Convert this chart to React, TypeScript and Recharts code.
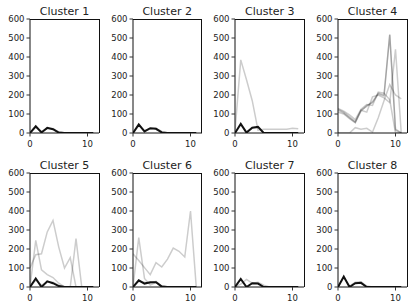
import { LineChart, Line, XAxis, YAxis } from "recharts";

const STEPS = [0, 1, 2, 3, 4, 5, 6, 7, 8, 9, 10, 11];
const Y_TICKS = [0, 100, 200, 300, 400, 500, 600];
const X_TICKS = [0, 10];

// dark line = the many overlapping members, faint = the outliers
const c1Core = [0, 35, 3, 27, 20, 2, 0, 0, 0, 0, 0, 0];
const c1Faint = [[0, 30, 8, 22, 24, 6, 0, 0, 0, 0, 0, 0]];

const c2Core = [0, 45, 8, 25, 22, 3, 0, 0, 0, 0, 0, 0];
const c2Faint = [[0, 38, 12, 22, 25, 8, 0, 0, 0, 0, 0, 0]];

const c3Core = [0, 48, 2, 28, 32, 0, 0, 0, 0, 0, 0, 0];
const c3Faint = [[10, 385, 280, 170, 15, 20, 20, 20, 20, 20, 25, 22]];

const c4Core: number[] | null = null;
const c4Faint = [
  [125, 110, 85, 60, 120, 140, 165, 210, 200, 520, 15, 0],
  [120, 105, 80, 55, 115, 145, 160, 205, 195, 515, 20, 0],
  [110, 100, 75, 55, 120, 110, 190, 200, 185, 160, 440, 0],
  [130, 115, 95, 70, 125, 150, 145, 215, 210, 175, 0, 0],
  [0, 0, 0, 28, 20, 25, 5, 80, 170, 255, 200, 180],
];

const c5Core = [0, 45, 0, 30, 20, 5, 0, 0, 0, 0, 0, 0];
const c5Faint = [
  [100, 170, 175, 290, 350, 210, 100, 155, 0, 0, 0, 0],
  [0, 245, 90, 65, 50, 20, 0, 0, 255, 0, 0, 0],
  [0, 35, 10, 25, 25, 10, 0, 0, 0, 0, 0, 0],
];

const c6Core = [0, 35, 18, 25, 25, 2, 0, 0, 0, 0, 0, 0];
const c6Faint = [
  [175, 139, 102, 65, 128, 105, 147, 205, 188, 158, 400, 0],
  [0, 260, 45, 10, 25, 5, 0, 0, 0, 0, 0, 0],
  [0, 30, 25, 20, 30, 5, 0, 0, 0, 0, 0, 0],
];

const c7Core = [0, 42, 0, 20, 18, 0, 0, 0, 0, 0, 0, 0];
const c7Faint = [[0, 15, 40, 20, 25, 10, 0, 0, 0, 0, 0, 0]];

const c8Core = [0, 55, 0, 20, 22, 0, 0, 0, 0, 0, 0, 0];
const c8Faint = [[0, 50, 5, 25, 28, 5, 0, 0, 0, 0, 0, 0]];

const clusters = [
  { title: "Cluster 1", core: c1Core, faint: c1Faint },
  { title: "Cluster 2", core: c2Core, faint: c2Faint },
  { title: "Cluster 3", core: c3Core, faint: c3Faint },
  { title: "Cluster 4", core: c4Core, faint: c4Faint },
  { title: "Cluster 5", core: c5Core, faint: c5Faint },
  { title: "Cluster 6", core: c6Core, faint: c6Faint },
  { title: "Cluster 7", core: c7Core, faint: c7Faint },
  { title: "Cluster 8", core: c8Core, faint: c8Faint },
];

const FONT = "'DejaVu Sans', sans-serif";
const COL_LEFT = [30, 132.7, 235.3, 338];
const ROW_TOP = [19, 173];
const PLOT_W = 69;
const PLOT_H = 114;
const Y_AXIS_W = 30;
const X_AXIS_H = 20;
const PAD_TOP = 6;

const tickStyle = { fontSize: 8.5, fill: "#222", fontFamily: FONT };

function Panel({ title, core, faint, left, top }: any) {
  const data = STEPS.map((x, i) => {
    const row: any = { x };
    if (core) row.core = core[i];
    faint.forEach((s: number[], j: number) => (row["f" + j] = s[i]));
    return row;
  });

  return (
    <>
      <div
        style={{
          position: "absolute",
          left,
          top: top - 13,
          width: PLOT_W,
          textAlign: "center",
          fontFamily: FONT,
          fontSize: 11,
          lineHeight: "11px",
          color: "#222",
          whiteSpace: "nowrap",
        }}
      >
        {title}
      </div>
      <div
        style={{ position: "absolute", left: left - Y_AXIS_W, top: top - PAD_TOP }}
      >
        <LineChart
          width={Y_AXIS_W + PLOT_W + 1}
          height={PAD_TOP + PLOT_H + X_AXIS_H}
          data={data}
          margin={{ top: PAD_TOP, right: 1, bottom: 0, left: 0 }}
        >
          <XAxis
            dataKey="x"
            type="number"
            domain={[0, 12]}
            ticks={X_TICKS}
            interval={0}
            allowDataOverflow
            height={X_AXIS_H}
            tickSize={3.5}
            tickMargin={4}
            tick={tickStyle}
            axisLine={{ stroke: "#111" }}
            tickLine={{ stroke: "#333" }}
          />
          <YAxis
            type="number"
            domain={[0, 600]}
            ticks={Y_TICKS}
            interval={0}
            allowDataOverflow
            width={Y_AXIS_W}
            tickSize={3.5}
            tickMargin={2}
            tick={tickStyle}
            axisLine={{ stroke: "#111" }}
            tickLine={{ stroke: "#333" }}
          />
          {faint.map((_: number[], j: number) => (
            <Line
              key={j}
              dataKey={"f" + j}
              stroke="#000"
              strokeOpacity={0.2}
              strokeWidth={1.5}
              dot={false}
              isAnimationActive={false}
            />
          ))}
          {core && (
            <Line
              dataKey="core"
              stroke="#111"
              strokeWidth={2}
              dot={false}
              isAnimationActive={false}
            />
          )}
        </LineChart>
      </div>
      {/* top and right spines */}
      <div
        style={{
          position: "absolute",
          left,
          top: top - 0.5,
          width: PLOT_W + 0.5,
          height: PLOT_H,
          boxSizing: "border-box",
          borderTop: "1px solid #111",
          borderRight: "1px solid #111",
          pointerEvents: "none",
        }}
      />
    </>
  );
}

export default function App() {
  return (
    <div
      style={{
        position: "absolute",
        left: 0,
        top: 0,
        width: 415,
        height: 305,
        background: "#fff",
      }}
    >
      {clusters.map((c, i) => (
        <Panel
          key={c.title}
          title={c.title}
          core={c.core}
          faint={c.faint}
          left={COL_LEFT[i % 4]}
          top={ROW_TOP[Math.floor(i / 4)]}
        />
      ))}
    </div>
  );
}
